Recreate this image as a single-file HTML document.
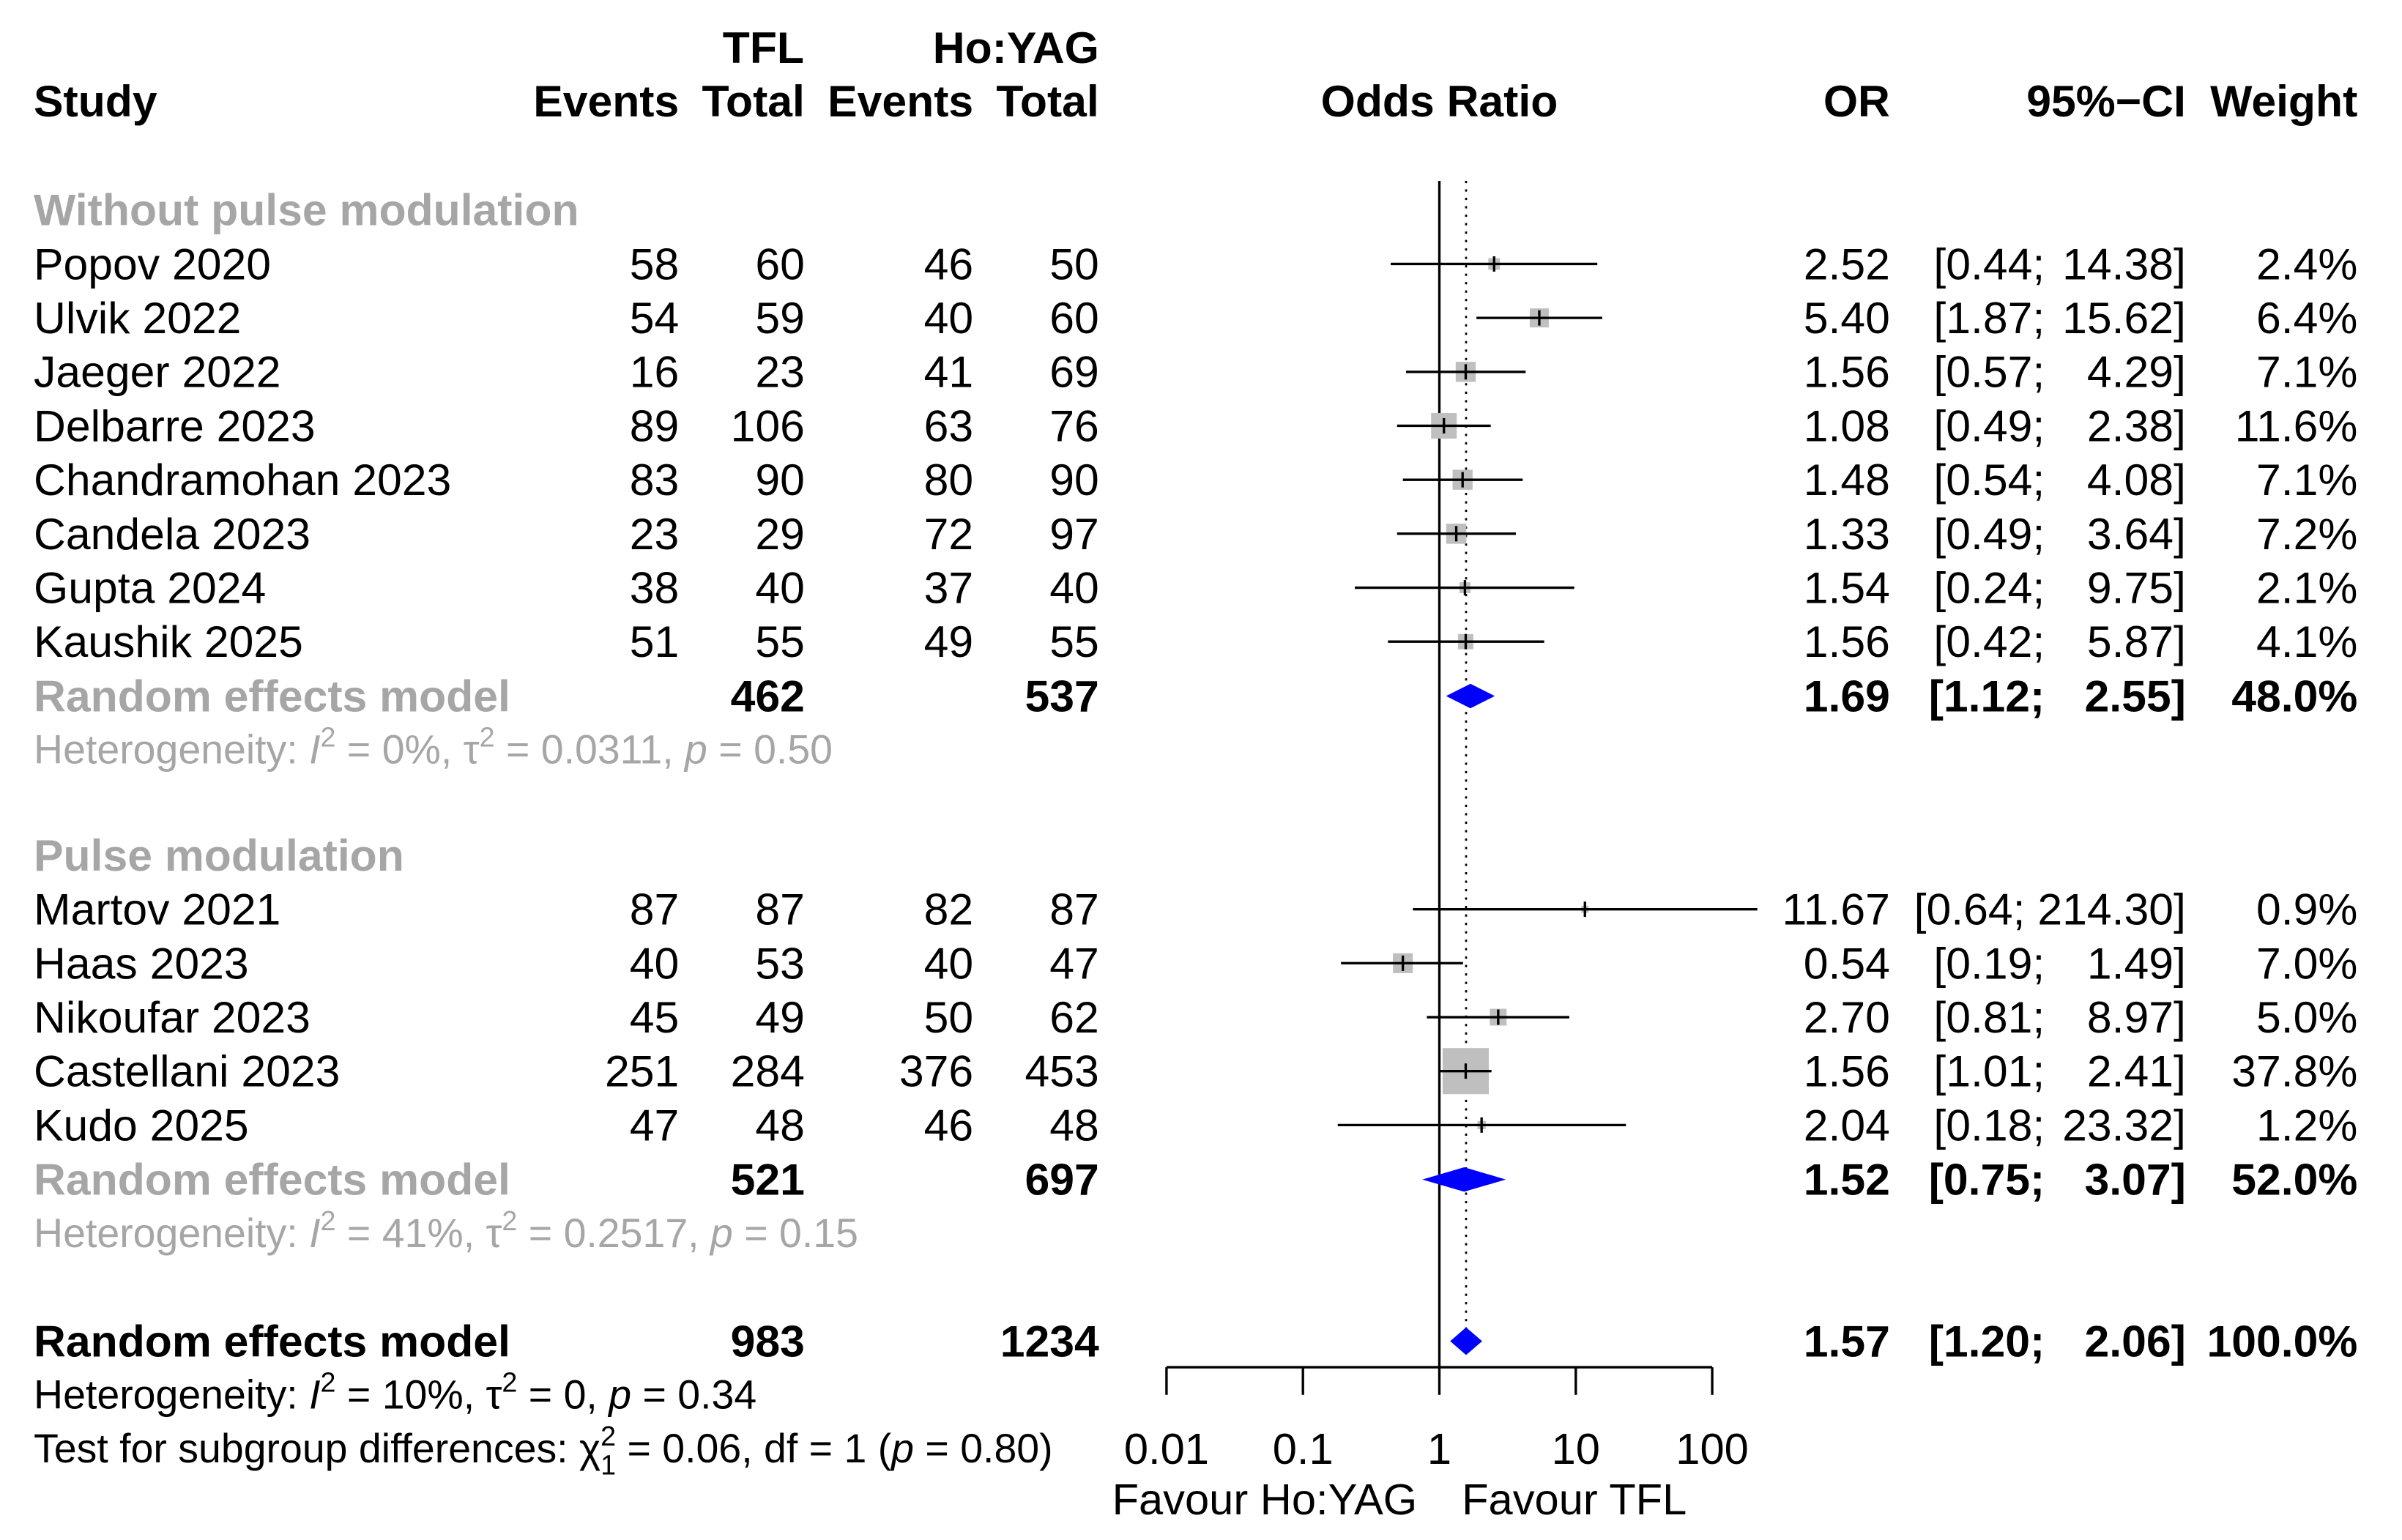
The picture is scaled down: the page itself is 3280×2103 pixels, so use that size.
<!DOCTYPE html>
<html><head><meta charset="utf-8"><style>
html,body{margin:0;padding:0;background:#fff;}
svg{display:block;font-family:"Liberation Sans",Arial,sans-serif;}
</style></head><body>
<svg id="plot" xmlns="http://www.w3.org/2000/svg" width="3280" height="2103" viewBox="0 0 1567 1004.7">
<g id="g"></g>
</svg>
<script>
// ---- data ----
const studies = ["Popov 2020","Ulvik 2022","Jaeger 2022","Delbarre 2023","Chandramohan 2023","Candela 2023","Gupta 2024","Kaushik 2025","Martov 2021","Haas 2023","Nikoufar 2023","Castellani 2023","Kudo 2025"];
const groupOf = [0,0,0,0,0,0,0,0,1,1,1,1,1];
const tflEvents = [58,54,16,89,83,23,38,51,87,40,45,251,47];
const tflTotal = [60,59,23,106,90,29,40,55,87,53,49,284,48];
const hoEvents = [46,40,41,63,80,72,37,49,82,40,50,376,46];
const hoTotal = [50,60,69,76,90,97,40,55,87,47,62,453,48];
const orVals = [2.52,5.40,1.56,1.08,1.48,1.33,1.54,1.56,11.67,0.54,2.70,1.56,2.04];
const ciLow = [0.44,1.87,0.57,0.49,0.54,0.49,0.24,0.42,0.64,0.19,0.81,1.01,0.18];
const ciHigh = [14.38,15.62,4.29,2.38,4.08,3.64,9.75,5.87,214.30,1.49,8.97,2.41,23.32];
const weights = [2.4,6.4,7.1,11.6,7.1,7.2,2.1,4.1,0.9,7.0,5.0,37.8,1.2];
const groupNames = ["Without pulse modulation","Pulse modulation"];
const groupOR = [1.69,1.52];
const groupLow = [1.12,0.75];
const groupHigh = [2.55,3.07];
const groupW = ["48.0%","52.0%"];
const groupTFL = [462,521];
const groupHo = [537,697];
const groupHet = [["0%","0.0311","0.50"],["41%","0.2517","0.15"]];
const overallOR = 1.57, overallLow = 1.20, overallHigh = 2.06;
const tickVals = [0.01,0.1,1,10,100];
const tickLabels = ["0.01","0.1","1","10","100"];

// ---- scales ----
const X0 = 939, DEC = 89;
function xs(v){ return X0 + DEC*Math.log10(v); }
const NS = "http://www.w3.org/2000/svg";
const g = document.getElementById('g');
const FS = 29;
function el(tag, attrs, text){
  const e = document.createElementNS(NS, tag);
  for (const k in attrs) e.setAttribute(k, attrs[k]);
  if (text !== undefined) e.textContent = text;
  g.appendChild(e); return e;
}
function txt(x,y,s,anchor,opts){
  opts = opts||{};
  const e = el('text',{x:x,y:y,'font-size':opts.size||FS,'text-anchor':anchor||'start',fill:opts.fill||'#000','font-weight':opts.bold?'bold':'normal'},s);
  
  
  return e;
}
const GRAY = "#a6a6a6";
// headers
txt(498,41,"TFL","middle",{bold:true,name:'header-tfl'});
txt(717,41,"Ho:YAG","end",{bold:true,name:'header-hoyag'});
txt(22,76,"Study","start",{bold:true,name:'header-study'});
txt(443,76,"Events","end",{bold:true,name:'header-tfl-events'});
txt(525,76,"Total","end",{bold:true,name:'header-tfl-total'});
txt(635,76,"Events","end",{bold:true,name:'header-ho-events'});
txt(717,76,"Total","end",{bold:true,name:'header-ho-total'});
txt(939,76,"Odds Ratio","middle",{bold:true,name:'header-odds-ratio'});
txt(1233,76,"OR","end",{bold:true,name:'header-or'});
txt(1426,76,"95%\u2212CI","end",{bold:true,name:'header-ci'});
txt(1538,76,"Weight","end",{bold:true,name:'header-weight'});

// reference lines
const vl = el('line',{x1:X0,y1:118,x2:X0,y2:892,stroke:'#000','stroke-width':1.6});


const dl = el('line',{x1:xs(overallOR),y1:118,x2:xs(overallOR),y2:868,stroke:'#000','stroke-width':1.3,'stroke-dasharray':'1.5,4'});



function ciText(y, lo, hi, bold){
  const o = {bold:bold,name:'ci-value'};
  if (hi >= 100) { txt(1426,y,"["+lo.toFixed(2)+"; "+hi.toFixed(2)+"]","end",o); }
  else { txt(1334,y,"["+lo.toFixed(2)+";","end",o); txt(1426,y,hi.toFixed(2)+"]","end",o); }
}
function diamond(yc, lo, mid, hi, h, name){
  const p = el('polygon',{points:`${xs(lo)},${yc} ${xs(mid)},${yc-h} ${xs(hi)},${yc} ${xs(mid)},${yc+h}`,fill:'#0000ff'});
  
  
}
function het(y, parts, color){
  const t = el('text',{x:22,y:y,'font-size':26.5,fill:color});
  
  
  t.innerHTML = parts;
}

const groupStart = [137, 558];
for (let gi=0; gi<2; gi++){
  let y = groupStart[gi];
  txt(22,y+10,groupNames[gi],"start",{bold:true,fill:GRAY,name:'subgroup-title'});
  for (let i=0;i<studies.length;i++){
    if (groupOf[i]!==gi) continue;
    y += 35.2;
    const b = y+10;
    txt(22,b,studies[i],"start",{name:'study-name'});
    txt(443,b,String(tflEvents[i]),"end",{name:'tfl-events'});
    txt(525,b,String(tflTotal[i]),"end",{name:'tfl-total'});
    txt(635,b,String(hoEvents[i]),"end",{name:'ho-events'});
    txt(717,b,String(hoTotal[i]),"end",{name:'ho-total'});
    txt(1233,b,orVals[i].toFixed(2),"end",{name:'or-value'});
    ciText(b,ciLow[i],ciHigh[i],false);
    txt(1538,b,weights[i].toFixed(1)+"%","end",{name:'weight-value'});
    const s = 4.9*Math.sqrt(weights[i]);
    const sq = el('rect',{x:xs(orVals[i])-s/2,y:y-s/2,width:s,height:s,fill:'#bfbfbf'});
    
    
    const ln = el('line',{x1:xs(ciLow[i]),y1:y,x2:xs(ciHigh[i]),y2:y,stroke:'#000','stroke-width':1.6});
    
    
    const tk = el('line',{x1:xs(orVals[i]),y1:y-5,x2:xs(orVals[i]),y2:y+5,stroke:'#000','stroke-width':1.6});
    
    
  }
  y += 35.5;
  const b = y+10;
  txt(22,b,"Random effects model","start",{bold:true,fill:GRAY,name:'subgroup-model-label'});
  txt(525,b,String(groupTFL[gi]),"end",{bold:true,name:'subgroup-tfl-total'});
  txt(717,b,String(groupHo[gi]),"end",{bold:true,name:'subgroup-ho-total'});
  txt(1233,b,groupOR[gi].toFixed(2),"end",{bold:true,name:'subgroup-or'});
  ciText(b,groupLow[gi],groupHigh[gi],true);
  txt(1538,b,groupW[gi],"end",{bold:true,name:'subgroup-weight'});
  diamond(y, groupLow[gi], groupOR[gi], groupHigh[gi], 8, 'subgroup-diamond');
  const h = groupHet[gi];
  het(y+44, `Heterogeneity: <tspan font-style="italic">I</tspan><tspan dy="-11" font-size="18">2</tspan><tspan dy="11"> = ${h[0]}, τ</tspan><tspan dy="-11" font-size="18">2</tspan><tspan dy="11"> = ${h[1]}, </tspan><tspan font-style="italic">p</tspan> = ${h[2]}`, GRAY);
}

// overall
txt(22,885,"Random effects model","start",{bold:true,name:'overall-model-label'});
txt(525,885,"983","end",{bold:true,name:'overall-tfl-total'});
txt(717,885,"1234","end",{bold:true,name:'overall-ho-total'});
txt(1233,885,overallOR.toFixed(2),"end",{bold:true,name:'overall-or'});
ciText(885,overallLow,overallHigh,true);
txt(1538,885,"100.0%","end",{bold:true,name:'overall-weight'});
diamond(875, overallLow, overallOR, overallHigh, 9, 'overall-diamond');
het(919, `Heterogeneity: <tspan font-style="italic">I</tspan><tspan dy="-11" font-size="18">2</tspan><tspan dy="11"> = 10%, τ</tspan><tspan dy="-11" font-size="18">2</tspan><tspan dy="11"> = 0, </tspan><tspan font-style="italic">p</tspan> = 0.34`, '#000');
het(954, `Test for subgroup differences: χ<tspan dy="-11" font-size="18">2</tspan><tspan dx="-10" dy="19" font-size="18">1</tspan><tspan dy="-8"> = 0.06, df = 1 (</tspan><tspan font-style="italic">p</tspan> = 0.80)`, '#000');

// axis
const ax = el('line',{x1:xs(tickVals[0]),y1:892,x2:xs(tickVals[tickVals.length-1]),y2:892,stroke:'#000','stroke-width':1.6});


for (let i=0;i<tickVals.length;i++){
  const t = el('line',{x1:xs(tickVals[i]),y1:892,x2:xs(tickVals[i]),y2:910,stroke:'#000','stroke-width':1.6});
  
  
  txt(xs(tickVals[i]),955,tickLabels[i],"middle",{size:28.5,name:'x-tick-label'});
}
txt(825,988,"Favour Ho:YAG","middle",{size:28.5,name:'favour-hoyag-label'});
txt(1027,988,"Favour TFL","middle",{size:28.5,name:'favour-tfl-label'});
</script>
</body></html>
